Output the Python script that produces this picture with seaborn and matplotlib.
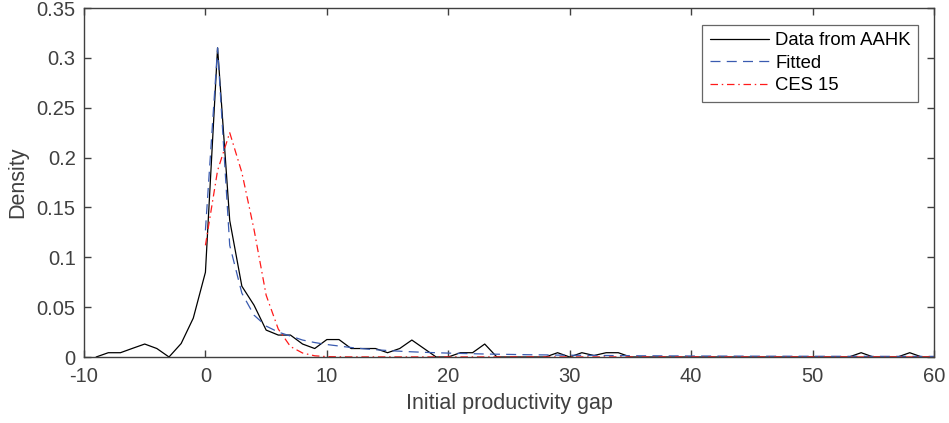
import numpy as np
import pandas as pd
import matplotlib
matplotlib.use("Agg")
import matplotlib.pyplot as plt
import seaborn as sns

# ---- data ----
data_x = list(range(-9, 61))
data_y = [0.0, 0.0043, 0.0043, 0.0087, 0.013, 0.0085, 0.0, 0.0135, 0.039,  # -9..-1
          0.085, 0.31, 0.137, 0.071, 0.052, 0.027, 0.022, 0.022, 0.013, 0.0085,  # 0..9
          0.0175, 0.0175, 0.0085, 0.0085, 0.0085, 0.0043, 0.0085, 0.017, 0.0085, 0.0,  # 10..19
          0.0, 0.0043, 0.0043, 0.013, 0.0, 0.0, 0.0, 0.0, 0.0, 0.0043,  # 20..29
          0.0, 0.0043, 0.0015, 0.0043, 0.0043, 0.0, 0.0, 0.0, 0.0, 0.0,  # 30..39
          0.0, 0.0, 0.0, 0.0, 0.0, 0.0, 0.0, 0.0, 0.0, 0.0,  # 40..49
          0.0, 0.0, 0.0, 0.0, 0.0043, 0.0, 0.0, 0.0, 0.0043, 0.0,  # 50..59
          0.0]  # 60

fit_x = list(range(0, 61))
fit_y = [0.127, 0.31, 0.112, 0.064, 0.042, 0.031, 0.025, 0.021, 0.017, 0.0145,  # 0..9
         0.0125, 0.011, 0.0095, 0.0083, 0.0073, 0.0065, 0.0058, 0.0052, 0.0047, 0.0043,  # 10..19
         0.0039, 0.0036, 0.0033, 0.003, 0.0028, 0.0026, 0.0024, 0.0022, 0.0021, 0.0019,  # 20..29
         0.0018, 0.0017, 0.0016, 0.0015, 0.0014, 0.0013, 0.0012, 0.0012, 0.0011, 0.0011,  # 30..39
         0.001, 0.00097, 0.00094, 0.00091, 0.00088, 0.00085, 0.00082, 0.0008, 0.00078, 0.00076,  # 40..49
         0.00074, 0.00072, 0.0007, 0.00068, 0.00066, 0.00065, 0.00064, 0.00063, 0.00062, 0.00061,  # 50..59
         0.0006]  # 60

ces_x = list(range(0, 61))
ces_y = [0.112, 0.187, 0.225, 0.185, 0.128, 0.062, 0.028, 0.0105, 0.004, 0.0012,  # 0..9
         0.0004, 0.0002, 0.0001, 0.0001, 0.0001, 0.0001, 0.0001, 0.0001, 0.0001, 0.0001,
         0.0001, 0.0001, 0.0001, 0.0001, 0.0001, 0.0001, 0.0001, 0.0001, 0.0001, 0.0001,
         0.0001, 0.0001, 0.0001, 0.0001, 0.0001, 0.0001, 0.0001, 0.0001, 0.0001, 0.0001,
         0.0001, 0.0001, 0.0001, 0.0001, 0.0001, 0.0001, 0.0001, 0.0001, 0.0001, 0.0001,
         0.0001, 0.0001, 0.0001, 0.0001, 0.0001, 0.0001, 0.0001, 0.0001, 0.0001, 0.0001,
         0.0001]

x_ticks = [-10, 0, 10, 20, 30, 40, 50, 60]
y_ticks = [0, 0.05, 0.1, 0.15, 0.2, 0.25, 0.3, 0.35]
y_tick_labels = ["0", "0.05", "0.1", "0.15", "0.2", "0.25", "0.3", "0.35"]

# ---- style ----
sns.set_style("white")
plt.rcParams["font.family"] = ["Liberation Sans", "DejaVu Sans"]
plt.rcParams["axes.unicode_minus"] = False
text_color = "#404040"
axis_color = "#404040"

fig = plt.figure(figsize=(9.49, 4.23), dpi=100)
ax = fig.add_axes([84 / 949, 1 - 357 / 423, 850 / 949, 349 / 423])

sns.lineplot(x=data_x, y=data_y, ax=ax, color="black", linewidth=0.9,
             label="Data from AAHK")
sns.lineplot(x=fit_x, y=fit_y, ax=ax, color="#3a5bb0", linewidth=0.9,
             label="Fitted")
sns.lineplot(x=ces_x, y=ces_y, ax=ax, color="#ff1a1a", linewidth=0.9,
             label="CES 15")

lines = ax.get_lines()
lines[1].set_dashes([8, 5])
lines[2].set_dashes([6, 3, 1.2, 3])

ax.set_xlim(-10, 60)
ax.set_ylim(0, 0.35)
ax.set_xticks(x_ticks)
ax.set_yticks(y_ticks)
ax.set_yticklabels(y_tick_labels)

for s in ax.spines.values():
    s.set_visible(True)
    s.set_color(axis_color)
    s.set_linewidth(1.0)

ax.tick_params(axis="both", which="both", direction="in", length=5, width=1.0,
               color=axis_color, labelcolor=text_color, labelsize=14.5,
               top=True, right=True, bottom=True, left=True)
ax.tick_params(axis="x", pad=7)
ax.tick_params(axis="y", pad=6)

ax.set_xlabel("Initial productivity gap", fontsize=15.5, color=text_color, labelpad=5)
ax.set_ylabel("Density", fontsize=15.5, color=text_color, labelpad=6)

leg = ax.legend(loc="upper right", bbox_to_anchor=(1 - 16 / 850, 1 - 17 / 349),
                borderaxespad=0, frameon=True, fancybox=False, fontsize=13.3,
                handlelength=3.2, handletextpad=0.35, labelspacing=0.3,
                borderpad=0.4)
leg.get_frame().set_edgecolor(axis_color)
leg.get_frame().set_linewidth(0.9)
for t in leg.get_texts():
    t.set_color("black")

fig.savefig("out.png", dpi=100)
